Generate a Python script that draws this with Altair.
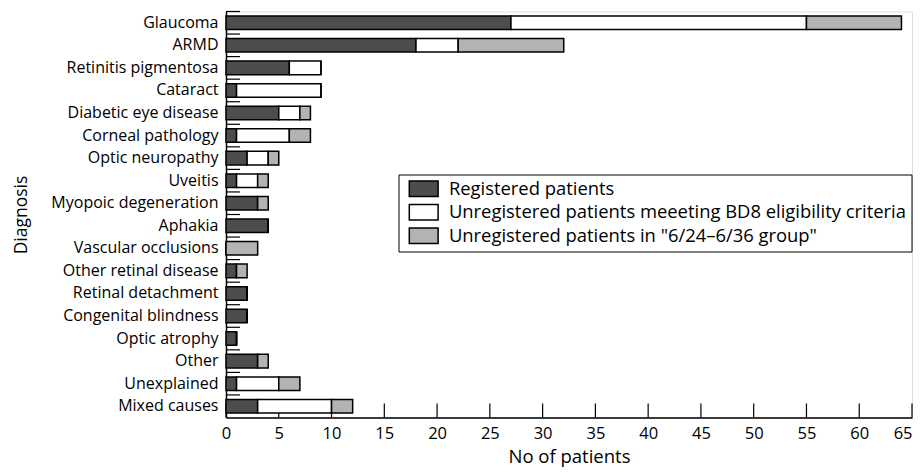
import altair as alt
import pandas as pd

diagnoses = [
    "Glaucoma", "ARMD", "Retinitis pigmentosa", "Cataract", "Diabetic eye disease",
    "Corneal pathology", "Optic neuropathy", "Uveitis", "Myopoic degeneration", "Aphakia",
    "Vascular occlusions", "Other retinal disease", "Retinal detachment",
    "Congenital blindness", "Optic atrophy", "Other", "Unexplained", "Mixed causes",
]
registered = [27, 18, 6, 1, 5, 1, 2, 1, 3, 4, 0, 1, 2, 2, 1, 3, 1, 3]
unreg_bd8 = [28, 4, 3, 8, 2, 5, 2, 2, 0, 0, 0, 0, 0, 0, 0, 0, 4, 7]
unreg_624 = [9, 10, 0, 0, 1, 2, 1, 1, 1, 0, 3, 1, 0, 0, 0, 1, 2, 2]

series_names = [
    "Registered patients",
    "Unregistered patients meeeting BD8 eligibility criteria",
    "Unregistered patients in \"6/24\u20136/36 group\"",
]
series_colors = ["#4d4d4d", "#ffffff", "#b3b3b3"]
x_ticks = [0, 5, 10, 15, 20, 25, 30, 35, 40, 45, 50, 55, 60, 65]

rows = []
for i, d in enumerate(diagnoses):
    for k, vals in enumerate([registered, unreg_bd8, unreg_624]):
        rows.append({"Diagnosis": d, "Group": series_names[k], "order": k, "value": vals[i]})
df = pd.DataFrame(rows)
tick_df = pd.DataFrame({"t": x_ticks})
cat_df = pd.DataFrame({"Diagnosis": diagnoses})

W = 686
H = 406
FONT = "Open Sans"

xscale = alt.Scale(domain=[0, 65], nice=False, zero=True)

x_tick_rules = alt.Chart(tick_df).mark_rule(color="black", strokeWidth=1.2).encode(
    x=alt.X("t:Q", scale=xscale,
            axis=alt.Axis(values=x_ticks, ticks=False, domainColor="black", domainWidth=1.5,
                          labelFontSize=16.5, labelPadding=7.5, labelColor="black", labelFont=FONT,
                          labelFlush=False, labelOverlap=False,
                          labelAlign={"condition": {"test": "datum.value == 65", "value": "right"},
                                      "value": "center"},
                          title="No of patients", titleFont=FONT, titleFontSize=18.5,
                          titleFontWeight="normal", titleColor="black",
                          titleY=45, titleBaseline="alphabetic",
                          grid=False)),
    y=alt.value(H),
    y2=alt.value(H - 14),
)

y_tick_rules = alt.Chart(cat_df).mark_rule(color="black", strokeWidth=1.2).encode(
    y=alt.Y("Diagnosis:N", sort=diagnoses, bandPosition=0,
            scale=alt.Scale(paddingInner=0, paddingOuter=0), axis=None),
    x=alt.value(0),
    x2=alt.value(14),
)

bars = alt.Chart(df).mark_bar(stroke="black", strokeWidth=1.5).encode(
    x=alt.X("value:Q", stack="zero", scale=xscale),
    y=alt.Y("Diagnosis:N", sort=diagnoses,
            scale=alt.Scale(paddingInner=0.4, paddingOuter=0.2),
            axis=alt.Axis(ticks=False, domainColor="black", domainWidth=1.5,
                          labelFontSize=16, labelPadding=8, labelColor="black", labelFont=FONT,
                          title="Diagnosis", titleFont=FONT, titleFontSize=17.5,
                          titleFontWeight="normal", titleColor="black",
                          titleX=-205, titleY=H / 2, titleAngle=-90,
                          titleAlign="center", titleBaseline="middle", grid=False)),
    color=alt.Color("Group:N", sort=series_names,
                    scale=alt.Scale(domain=series_names, range=series_colors),
                    legend=alt.Legend(
                        title=None, orient="none", legendX=172.5, legendY=163,
                        symbolType="M-1.8,-0.97H1.8V0.97H-1.8Z", symbolSize=256,
                        symbolStrokeColor="black", symbolStrokeWidth=1.5,
                        symbolOffset=11, labelOffset=16, rowPadding=1.5,
                        labelFontSize=18.4, labelFont=FONT, labelColor="black",
                        padding=5, fillColor="white", strokeColor="black",
                        labelLimit=600)),
    order=alt.Order("order:Q"),
)

chart = alt.layer(x_tick_rules, y_tick_rules, bars).resolve_scale(
    y="independent"
).properties(
    width=W, height=H,
    autosize=alt.AutoSizeParams(type="none"),
    padding={"left": 218, "top": 3.5, "right": 2, "bottom": 49.5},
).configure_view(stroke=None).configure(background="white")

chart.save("out.html", embed_options={"renderer": "svg", "actions": False})
